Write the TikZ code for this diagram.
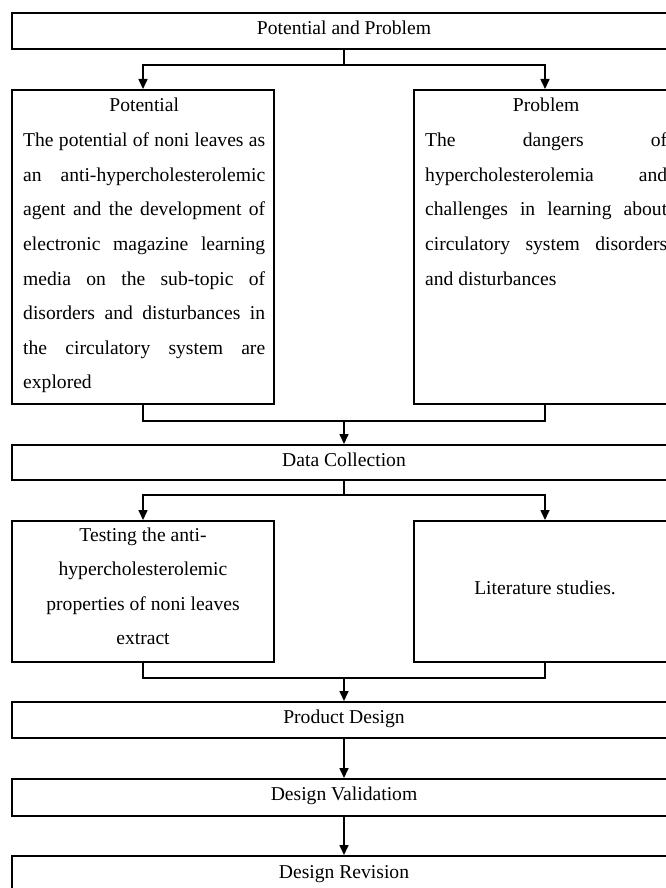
\documentclass[tikz,border=0pt]{standalone}
\usepackage{fontspec}
\setmainfont{Liberation Serif}
\usetikzlibrary{arrows.meta}
\newcommand{\bodysize}{\fontsize{19.6}{34.6}\selectfont}
\begin{document}
\begin{tikzpicture}[x=1pt, y=-1pt,
  box/.style={draw, line width=2pt, rectangle, inner sep=0pt},
  conn/.style={line width=1.6pt},
  arr/.style={conn, -{Triangle[length=10pt,width=9pt]}},
  txt/.style={inner sep=0pt, font=\bodysize}]
\useasboundingbox (0,0) rectangle (665,888);

% boxes
\node[box, minimum width=664pt, minimum height=36pt] (pp) at (344,31) {};
\node[box, minimum width=262pt, minimum height=314pt] (pot) at (143,247) {};
\node[box, minimum width=262pt, minimum height=314pt] (prob) at (545,247) {};
\node[box, minimum width=664pt, minimum height=35pt] (dc) at (344,462.5) {};
\node[box, minimum width=262pt, minimum height=141pt] (test) at (143,591.5) {};
\node[box, minimum width=262pt, minimum height=141pt] (lit) at (545,591.5) {};
\node[box, minimum width=664pt, minimum height=36pt] (pd) at (344,720) {};
\node[box, minimum width=664pt, minimum height=37pt] (dv) at (344,797.5) {};
\node[box, minimum width=664pt, minimum height=37pt] (dr) at (344,874.5) {};

% texts
\node[txt, anchor=base] (ppt) at (344,35) {Potential and Problem};
\node[txt, anchor=base west] (pott) at (23,112) {\parbox[t]{242pt}{\bodysize
\makebox[\linewidth][c]{Potential}\\
\makebox[\linewidth][s]{The potential of noni leaves as}\\
\makebox[\linewidth][s]{an anti-hypercholesterolemic}\\
\makebox[\linewidth][s]{agent and the development of}\\
\makebox[\linewidth][s]{electronic magazine learning}\\
\makebox[\linewidth][s]{media on the sub-topic of}\\
\makebox[\linewidth][s]{disorders and disturbances in}\\
\makebox[\linewidth][s]{the circulatory system are}\\
explored}};
\node[txt, anchor=base west] (probt) at (425,112) {\parbox[t]{242pt}{\bodysize
\makebox[\linewidth][c]{Problem}\\
\makebox[\linewidth][s]{The dangers of}\\
\makebox[\linewidth][s]{hypercholesterolemia and}\\
\makebox[\linewidth][s]{challenges in learning about}\\
\makebox[\linewidth][s]{circulatory system disorders}\\
and disturbances}};
\node[txt, anchor=base] (dct) at (344,466) {Data Collection};
\node[txt, anchor=base] (testt) at (143,541) {\parbox[t]{242pt}{\bodysize\centering
Testing the anti-\\
hypercholesterolemic\\
properties of noni leaves\\
extract}};
\node[txt, anchor=base] (litt) at (545,594) {Literature studies.};
\node[txt, anchor=base] (pdt) at (344,723) {Product Design};
\node[txt, anchor=base] (dvt) at (344,800) {Design Validatiom};
\node[txt, anchor=base] (drt) at (344,878) {Design Revision};

% connectors
\coordinate (j1) at (344,65);
\coordinate (j2) at (344,421);
\coordinate (j3) at (344,495);
\coordinate (j4) at (344,678);
\draw[conn] (pp.south) -- (j1);
\draw[arr] (j1) -| (pot.north);
\draw[arr] (j1) -| (prob.north);
\draw[conn] (pot.south) |- (j2) -| (prob.south);
\draw[arr] (j2) -- (dc.north);
\draw[conn] (dc.south) -- (j3);
\draw[arr] (j3) -| (test.north);
\draw[arr] (j3) -| (lit.north);
\draw[conn] (test.south) |- (j4) -| (lit.south);
\draw[arr] (j4) -- (pd.north);
\draw[arr] (pd.south) -- (dv.north);
\draw[arr] (dv.south) -- (dr.north);
\end{tikzpicture}
\end{document}
